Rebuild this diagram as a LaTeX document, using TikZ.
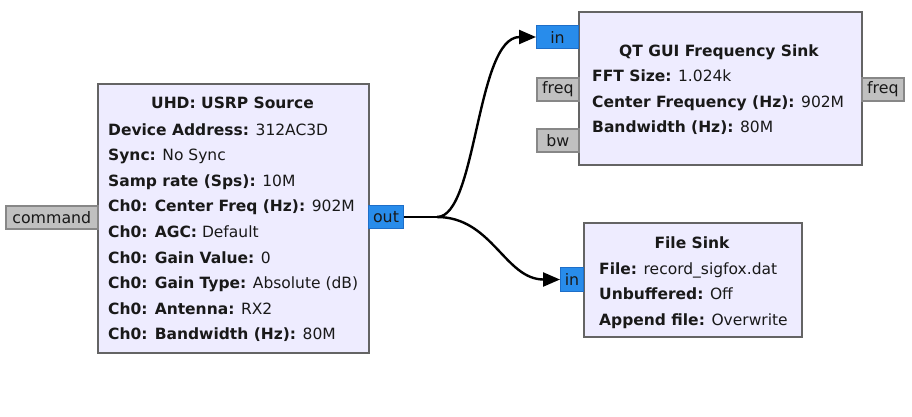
\documentclass[tikz,border=0pt]{standalone}
\usepackage{fontspec}
\setmainfont{DejaVu Sans}
\usetikzlibrary{arrows.meta}
\definecolor{boxfill}{RGB}{238,236,255}
\definecolor{boxborder}{RGB}{100,100,100}
\definecolor{portblue}{RGB}{40,140,235}
\definecolor{portblueb}{RGB}{30,110,200}
\definecolor{portgray}{RGB}{192,192,192}
\definecolor{portgrayb}{RGB}{135,135,135}
\definecolor{txt}{RGB}{25,25,25}
\begin{document}
\begin{tikzpicture}[x=1pt,y=-1pt,
  blockbox/.style={draw=boxborder, line width=2.4pt, fill=boxfill, inner sep=0pt, anchor=north west},
  portg/.style={draw=portgrayb, line width=1.6pt, fill=portgray, inner sep=0pt, anchor=north west, font=\fontsize{15.8}{17}\selectfont, text=txt},
  portb/.style={draw=portblueb, line width=1pt, fill=portblue, inner sep=0pt, anchor=north west, font=\fontsize{15.8}{17}\selectfont, text=txt},
  title/.style={anchor=base, inner sep=0pt, font=\fontsize{15.5}{17}\bfseries\selectfont, text=txt},
  body/.style={anchor=base west, inner sep=0pt, align=left, font=\fontsize{15.5}{25.6}\selectfont, text=txt},
  wire/.style={line width=2.4pt, -{Triangle[length=17pt,width=14pt]}}
]
\useasboundingbox (0,0) rectangle (912,416);
% USRP source
\node[blockbox, minimum width=271pt, minimum height=269pt] (usrp) at (97,83) {};
\node[title] (usrpt) at (232.5,108.3) {UHD: USRP Source};
\node[body] (usrpb) at (108,339.8) {\textbf{Device Address:} 312AC3D\\
\textbf{Sync:} No Sync\\
\textbf{Samp rate (Sps):} 10M\\
\textbf{Ch0: Center Freq (Hz):} 902M\\
\textbf{Ch0: AGC:} Default\\
\textbf{Ch0: Gain Value:} 0\\
\textbf{Ch0: Gain Type:} Absolute (dB)\\
\textbf{Ch0: Antenna:} RX2\\
\textbf{Ch0: Bandwidth (Hz):} 80M};
\node[portg, minimum width=92pt, minimum height=23pt] (cmd) at (5,205) {command};
\node[portb, minimum width=35pt, minimum height=23pt] (out) at (368,205) {out};
% QT GUI sink
\node[blockbox, minimum width=283pt, minimum height=153pt] (qt) at (578,11) {};
\node[title] (qtt) at (719,56) {QT GUI Frequency Sink};
\node[body] (qtb) at (592,132.6) {\textbf{FFT Size:} 1.024k\\
\textbf{Center Frequency (Hz):} 902M\\
\textbf{Bandwidth (Hz):} 80M};
\node[portb, minimum width=42pt, minimum height=23pt] (qtin) at (536,25) {in};
\node[portg, minimum width=42pt, minimum height=23pt] (qtfreq) at (536,77) {freq};
\node[portg, minimum width=42pt, minimum height=23pt] (qtbw) at (536,128) {bw};
\node[portg, minimum width=42pt, minimum height=23pt] (qtfreqo) at (861,77) {freq};
% File sink
\node[blockbox, minimum width=218pt, minimum height=114pt] (fs) at (583,222) {};
\node[title] (fst) at (692,248) {File Sink};
\node[body] (fsb) at (599,325.2) {\textbf{File:} record\_sigfox.dat\\
\textbf{Unbuffered:} Off\\
\textbf{Append file:} Overwrite};
\node[portb, minimum width=23pt, minimum height=24pt] (fsin) at (560,267) {in};
% wires
\coordinate (split) at ([xshift=33pt]out.east);
\draw[line width=2.4pt] (out.east) -- (split);
\draw[wire] (split) .. controls +(40,0) and +(-60,0) .. (qtin.west);
\draw[wire] (split) .. controls +(55,0) and +(-55,0) .. (fsin.west);
\end{tikzpicture}
\end{document}
